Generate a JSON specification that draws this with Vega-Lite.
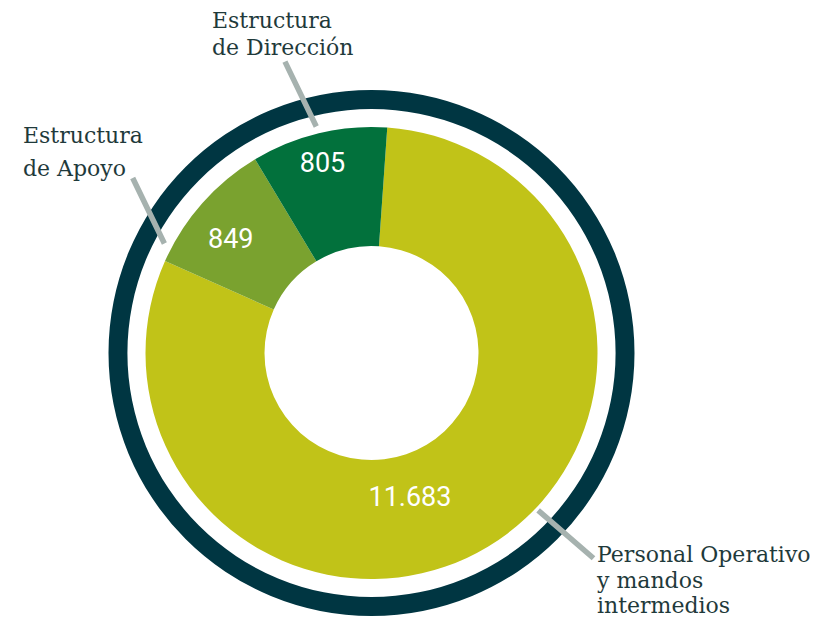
{
  "$schema": "https://vega.github.io/schema/vega-lite/v6.json",
  "autosize": "none",
  "width": 743,
  "height": 536,
  "padding": {"left": 0, "top": 85, "right": 84, "bottom": 0},
  "background": "white",
  "config": {
    "view": {"stroke": null},
    "locale": {"number": {"decimal": ",", "thousands": ".", "grouping": [3], "currency": ["", " €"]}}
  },
  "data": {
    "values": [
      {"categoria": "Personal Operativo y mandos intermedios", "etiqueta": "Personal Operativo\ny mandos\nintermedios", "valor": 11683, "angulo": 290, "orden": 1},
      {"categoria": "Estructura de Apoyo", "etiqueta": "Estructura\nde Apoyo", "valor": 849, "angulo": 35, "orden": 2},
      {"categoria": "Estructura de Dirección", "etiqueta": "Estructura\nde Dirección", "valor": 805, "angulo": 35, "orden": 3}
    ]
  },
  "layer": [
    {
      "data": {"values": [{"anillo": "total", "valor": 13337}]},
      "mark": {"type": "arc", "innerRadius": 244, "outerRadius": 263, "fill": "#003642"},
      "encoding": {
        "theta": {"value": 0},
        "theta2": {"value": 6.2832}
      }
    },
    {
      "mark": {"type": "arc", "innerRadius": 107, "outerRadius": 226},
      "encoding": {
        "theta": {"field": "angulo", "type": "quantitative", "stack": true, "scale": {"range": [0.0698, 6.353]}},
        "order": {"field": "orden", "type": "quantitative"},
        "color": {
          "field": "categoria", "type": "nominal", "legend": null,
          "scale": {
            "domain": ["Personal Operativo y mandos intermedios", "Estructura de Apoyo", "Estructura de Dirección"],
            "range": ["#c1c318", "#7aa22f", "#02713c"]
          }
        }
      }
    },
    {
      "data": {"values": [{"linea": "Estructura de Dirección"}]},
      "mark": {"type": "arc", "fill": "transparent", "stroke": "#a6b2af", "strokeWidth": 5.5, "strokeCap": "butt", "xOffset": -11.7, "yOffset": -136.5},
      "encoding": {
        "theta": {"value": -0.4503}, "theta2": {"value": -0.4503},
        "radius": {"value": 172}, "radius2": {"value": 100}
      }
    },
    {
      "data": {"values": [{"linea": "Estructura de Apoyo"}]},
      "mark": {"type": "arc", "fill": "transparent", "stroke": "#a6b2af", "strokeWidth": 5.5, "strokeCap": "butt", "xOffset": -163.6, "yOffset": -19.4},
      "encoding": {
        "theta": {"value": -0.4503}, "theta2": {"value": -0.4503},
        "radius": {"value": 172.8}, "radius2": {"value": 100}
      }
    },
    {
      "data": {"values": [{"linea": "Personal Operativo y mandos intermedios"}]},
      "mark": {"type": "arc", "fill": "transparent", "stroke": "#a6b2af", "strokeWidth": 5.5, "strokeCap": "butt", "xOffset": 91, "yOffset": 92},
      "encoding": {
        "theta": {"value": 2.2838}, "theta2": {"value": 2.2838},
        "radius": {"value": 173.2}, "radius2": {"value": 100}
      }
    },
    {
      "mark": {"type": "text", "radius": 195, "dx": -3.5, "dy": 0.6, "align": "center", "baseline": "middle", "font": "Roboto", "fontSize": 27, "fill": "white"},
      "encoding": {
        "theta": {"field": "angulo", "type": "quantitative", "stack": true, "scale": {"range": [0.0698, 6.353]}},
        "order": {"field": "orden", "type": "quantitative"},
        "text": {"condition": {"test": "datum.orden === 3", "field": "valor", "format": ","}, "value": ""}
      }
    },
    {
      "mark": {"type": "text", "radius": 181, "dx": -5.2, "dy": 6.5, "align": "center", "baseline": "middle", "font": "Roboto", "fontSize": 27, "fill": "white"},
      "encoding": {
        "theta": {"field": "angulo", "type": "quantitative", "stack": true, "scale": {"range": [0.0698, 6.353]}},
        "order": {"field": "orden", "type": "quantitative"},
        "text": {"condition": {"test": "datum.orden === 2", "field": "valor", "format": ","}, "value": ""}
      }
    },
    {
      "mark": {"type": "text", "radius": 150, "dx": -38.8, "dy": 16.4, "align": "center", "baseline": "middle", "font": "Roboto", "fontSize": 27, "fill": "white"},
      "encoding": {
        "theta": {"field": "angulo", "type": "quantitative", "stack": true, "scale": {"range": [0.0698, 6.353]}},
        "order": {"field": "orden", "type": "quantitative"},
        "text": {"condition": {"test": "datum.orden === 1", "field": "valor", "format": ","}, "value": ""}
      }
    },
    {
      "transform": [{"filter": "datum.orden === 3"}],
      "mark": {"type": "text", "align": "left", "baseline": "alphabetic", "lineBreak": "\n", "lineHeight": 27, "font": "DejaVu Serif", "fontSize": 22, "fill": "#1f3a3b"},
      "encoding": {
        "theta": {"value": -0.4562}, "radius": {"value": 362},
        "text": {"field": "etiqueta"}
      }
    },
    {
      "transform": [{"filter": "datum.orden === 2"}],
      "mark": {"type": "text", "align": "left", "baseline": "alphabetic", "lineBreak": "\n", "lineHeight": 33, "font": "DejaVu Serif", "fontSize": 22, "fill": "#1f3a3b"},
      "encoding": {
        "theta": {"value": -1.0291}, "radius": {"value": 406.7},
        "text": {"field": "etiqueta"}
      }
    },
    {
      "transform": [{"filter": "datum.orden === 1"}],
      "mark": {"type": "text", "align": "left", "baseline": "alphabetic", "lineBreak": "\n", "lineHeight": 25.8, "font": "DejaVu Serif", "fontSize": 22, "fill": "#1f3a3b"},
      "encoding": {
        "theta": {"value": 2.3175}, "radius": {"value": 307.3},
        "text": {"field": "etiqueta"}
      }
    }
  ]
}
